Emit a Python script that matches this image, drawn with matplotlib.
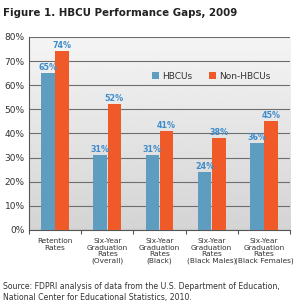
import numpy as np
import matplotlib.pyplot as plt
from matplotlib.ticker import FixedLocator

categories = ["Retention\nRates",
              "Six-Year\nGraduation\nRates\n(Overall)",
              "Six-Year\nGraduation\nRates\n(Black)",
              "Six-Year\nGraduation\nRates\n(Black Males)",
              "Six-Year\nGraduation\nRates\n(Black Females)"]
hbcu = [65, 31, 31, 24, 36]
non_hbcu = [74, 52, 41, 38, 45]
yticks = [0, 10, 20, 30, 40, 50, 60, 70, 80]

BLUE = "#5e9dc0"
ORANGE = "#f05a28"
LABEL_BLUE = "#3f8ccb"
TEXT = "#333333"

plt.rcParams["font.family"] = ["DejaVu Sans"]

fig = plt.figure(figsize=(3.05, 3.05), dpi=100)
ax = fig.add_axes([0.095, 0.246, 0.856, 0.633])

x = np.arange(len(categories))
w = 0.26

# gradient background
grad = np.linspace(0.83, 0.96, 256).reshape(-1, 1)
ax.imshow(grad, cmap="gray", vmin=0, vmax=1, aspect="auto",
          extent=[-0.5, len(categories) - 0.5, 0, 80], origin="lower", zorder=0)

ax.bar(x - w / 2 - 0.005, hbcu, w, color=BLUE, label="HBCUs", zorder=3)
ax.bar(x + w / 2 + 0.005, non_hbcu, w, color=ORANGE, label="Non-HBCUs", zorder=3)

for i in range(len(categories)):
    ax.text(x[i] - w / 2 - 0.005, hbcu[i] + 0.6, f"{hbcu[i]}%", ha="center", va="bottom",
            fontsize=5.8, fontweight="bold", color=LABEL_BLUE, zorder=4)
    ax.text(x[i] + w / 2 + 0.005, non_hbcu[i] + 0.6, f"{non_hbcu[i]}%", ha="center", va="bottom",
            fontsize=5.8, fontweight="bold", color=LABEL_BLUE, zorder=4)

ax.set_xlim(-0.5, len(categories) - 0.5)
ax.set_ylim(0, 80)
ax.set_yticks(yticks)
ax.set_yticklabels([f"{v}%" for v in yticks], fontsize=6.5, color=TEXT)
ax.yaxis.grid(True, color="#6e6e6e", linewidth=0.8, zorder=1)
ax.tick_params(axis="y", length=0, pad=3)

ax.set_xticks(x)
ax.set_xticklabels(categories, fontsize=5.3, color=TEXT, linespacing=1.05, va="top")
ax.tick_params(axis="x", which="major", length=0, pad=6)
ax.xaxis.set_minor_locator(FixedLocator(np.arange(-0.5, len(categories), 1.0)))
ax.tick_params(axis="x", which="minor", length=3, width=0.8, color="#555555", direction="out")

for s in ["top", "right"]:
    ax.spines[s].set_visible(False)
ax.spines["left"].set_color("#555555")
ax.spines["bottom"].set_color("#555555")
ax.spines["left"].set_linewidth(0.8)
ax.spines["bottom"].set_linewidth(0.8)
ax.set_axisbelow(True)

ax.legend(loc="upper left", bbox_to_anchor=(0.44, 0.86), ncol=2, frameon=False,
          fontsize=6.5, handlelength=0.8, handleheight=0.8, handletextpad=0.35,
          columnspacing=1.8, labelcolor=TEXT)

fig.text(0.01, 0.975, "Figure 1. HBCU Performance Gaps, 2009", fontsize=7.4,
         fontweight="bold", color="#222222", ha="left", va="top")
fig.text(0.01, 0.075, "Source: FDPRI analysis of data from the U.S. Department of Education,\n"
         "National Center for Educational Statistics, 2010.", fontsize=5.6,
         color=TEXT, ha="left", va="top", linespacing=1.3)

fig.savefig("out.png", dpi=100)
